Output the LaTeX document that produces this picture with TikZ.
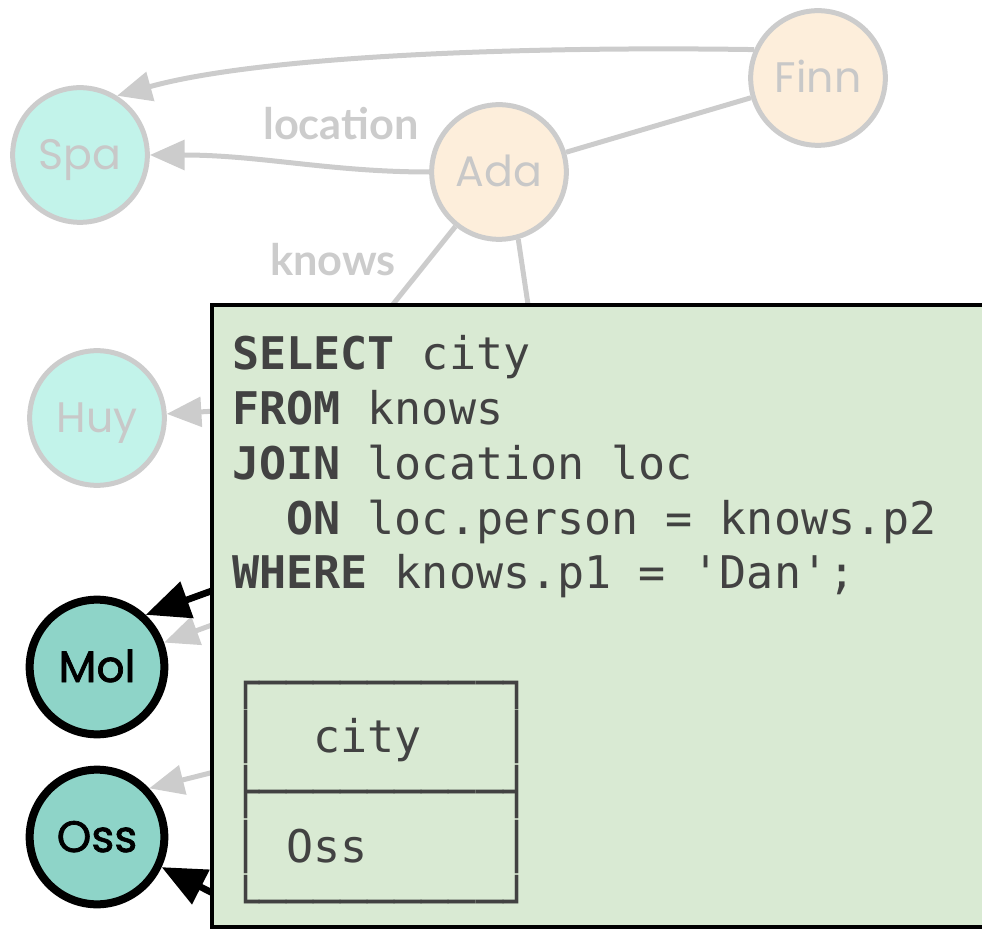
\documentclass[tikz,border=0pt]{standalone}
\usepackage{fontspec}
\setmonofont{DejaVu Sans Mono}
\newfontfamily\nodefont{Poppins}
\newfontfamily\hitfont{Poppins}[FakeBold=1.6]
\newfontfamily\labelfont{Lato}
\usetikzlibrary{arrows.meta}

\definecolor{edgegray}{HTML}{CCCCCC}
\definecolor{fadetext}{HTML}{C8C8C8}
\definecolor{cityfill}{HTML}{C2F3EA}
\definecolor{personfill}{HTML}{FDEEDB}
\definecolor{hitfill}{HTML}{8ED4C8}
\definecolor{queryfill}{HTML}{D9EAD3}
\definecolor{codetext}{HTML}{424242}

\tikzset{
  vertex/.style={circle, minimum size=101pt, inner sep=0pt,
    text height=22.5pt, text depth=0pt},
  faded/.style={vertex, draw=edgegray, line width=3.75pt, text=fadetext,
    font=\nodefont\fontsize{32}{36}\selectfont},
  hit/.style={vertex, draw=black, line width=6pt, fill=hitfill, text=black,
    font=\hitfont\fontsize{33}{36}\selectfont},
  gline/.style={draw=edgegray, line width=3.75pt},
  gedge/.style={gline, -{Triangle[length=26pt 0 0,width=22pt 0 0]}},
  bedge/.style={draw=black, line width=5pt, -{Triangle[length=33pt 0 0,width=28pt 0 0]}},
  elabel/.style={inner sep=0pt, text=edgegray,
    font=\labelfont\bfseries\fontsize{32.5}{36}\selectfont},
  querybox/.style={draw=black, fill=queryfill, line width=2.5pt,
    rectangle, inner sep=0pt, outer sep=0pt},
  codeline/.style={inner sep=0pt, anchor=base west, text=codetext,
    font=\ttfamily\fontsize{33.75}{41}\selectfont}
}

\begin{document}
\begin{tikzpicture}[x=0.75pt,y=-0.75pt]
\useasboundingbox (0,0) rectangle (982,930);
\clip (0,0) rectangle (982,930);

% graph vertices
\node[faded, fill=cityfill]   (Spa)  at (80,155)  {Spa};
\node[faded, fill=personfill] (Ada)  at (499,172) {Ada};
\node[faded, fill=personfill] (Finn) at (818,78)  {Finn};
\node[faded, fill=cityfill]   (Huy)  at (97,418)  {Huy};
\node[hit] (Mol) at (97,667) {Mol};
\node[hit] (Oss) at (97,837) {Oss};

% edge labels
\node[elabel] (locl)   at (341,124) {location};
\node[elabel] (knowsl) at (333,260) {knows};

% hidden ends of edges running under the query panel
\coordinate (ka) at (330,383);
\coordinate (kb) at (543,405);
\coordinate (hz) at (250,409);
\coordinate (m1) at (250,577);
\coordinate (m2) at (250,611);
\coordinate (o1) at (250,763);
\coordinate (o2) at (250,912);

% faded edges
\draw[gedge] (Finn.156) .. controls (520,46) and (260,56) .. (Spa.58);
\draw[gedge] (Ada.180) .. controls (330,172) and (260,155) .. (Spa.0);
\draw[gline] (Ada) -- (Finn);
\draw[gline] (Ada) -- (ka);
\draw[gline] (Ada.-74) -- (kb);
\draw[gedge] (hz) -- (Huy);
\draw[gedge] (m2) -- (Mol.20);
\draw[gedge] (o1) -- (Oss.43);

% highlighted edges
\draw[bedge] (m1) -- (Mol.47);
\draw[bedge] (o2) -- (Oss.-25);

% query panel
\node[querybox, anchor=north west, minimum width=600pt, minimum height=466.5pt]
  (query) at (212,305) {};

\node[codeline] (c1)  at (232,370.0) {\textbf{SELECT} city};
\node[codeline] (c2)  at (232,424.7) {\textbf{FROM} knows};
\node[codeline] (c3)  at (232,479.4) {\textbf{JOIN} location loc};
\node[codeline] (c4)  at (232,534.1) {~~\textbf{ON} loc.person = knows.p2};
\node[codeline] (c5)  at (232,588.8) {\textbf{WHERE} knows.p1 = 'Dan';};
\node[codeline] (c7)  at (232,698.2) {┌─────────┐};
\node[codeline] (c8)  at (232,752.9) {│~~city~~~│};
\node[codeline] (c9)  at (232,807.6) {├─────────┤};
\node[codeline] (c10) at (232,862.3) {│~Oss~~~~~│};
\node[codeline] (c11) at (232,917.0) {└─────────┘};
\end{tikzpicture}
\end{document}
